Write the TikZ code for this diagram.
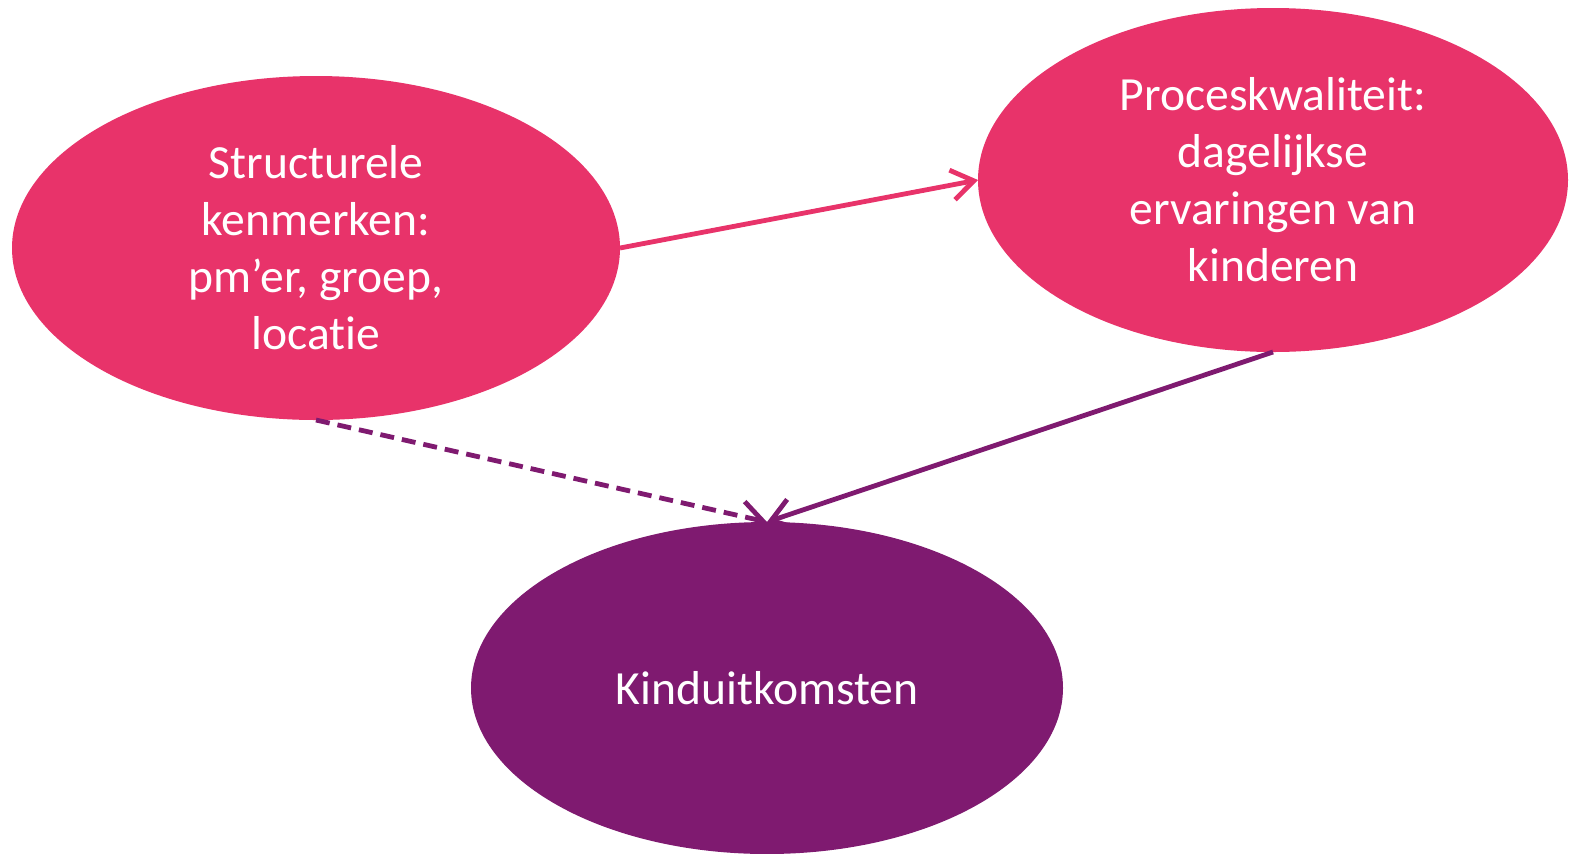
\documentclass[tikz,border=0pt]{standalone}
\usepackage{fontspec}
\setmainfont{Carlito}[RawFeature={-liga}]
\usetikzlibrary{shapes.geometric,arrows.meta}
\definecolor{pinkc}{HTML}{E8336A}
\definecolor{purplec}{HTML}{7F1A70}
\tikzset{
  blob/.style={ellipse, inner sep=0pt, outer sep=0pt, text=white, align=center,
    font=\fontsize{23.8}{28.5}\selectfont},
  conn/.style={line width=2.4pt, -{Straight Barb[length=11pt,width=15pt,line width=2.4pt]}}
}
\begin{document}
\begin{tikzpicture}[x=0.5pt,y=-0.5pt]
\useasboundingbox (0,0) rectangle (1569,853);
\node[blob, fill=pinkc, minimum width=304pt, minimum height=172pt] (a) at (316,248)
  {Structurele\\kenmerken:\\pm’er, groep,\\locatie};
\node[blob, fill=pinkc, minimum width=295pt, minimum height=172pt] (b) at (1273,180)
  {Proceskwaliteit:\\dagelijkse\\ervaringen van\\kinderen};
\node[blob, fill=purplec, minimum width=296pt, minimum height=166pt] (c) at (767,688)
  {Kinduitkomsten};
\draw[conn, pinkc] (a.east) -- (b.west);
\draw[conn, purplec] (b.south) -- (c.north);
\draw[conn, purplec, dash pattern=on 7pt off 4pt] (a.south) -- (c.north);
\end{tikzpicture}
\end{document}
